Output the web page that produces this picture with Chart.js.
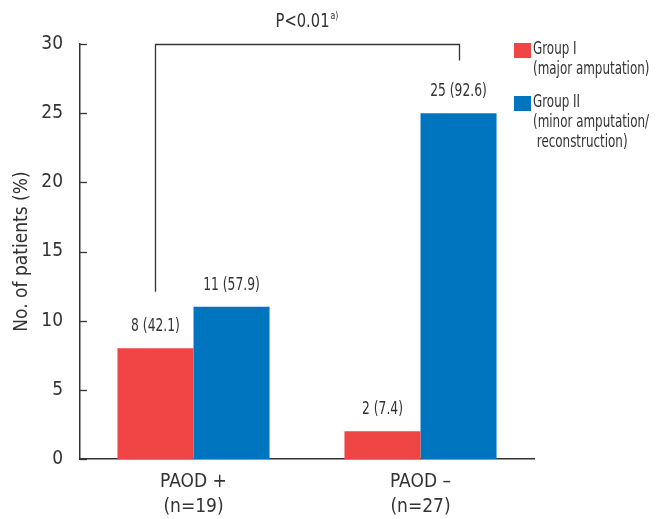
<!DOCTYPE html>
<html>
<head>
<meta charset="utf-8">
<script src="https://cdn.jsdelivr.net/npm/chart.js@4/dist/chart.umd.min.js"></script>
<style>
  html, body { margin: 0; padding: 0; background: #fff; }
  #wrap { width: 665px; height: 519px; position: relative; }
</style>
</head>
<body>
<div id="wrap"><canvas id="chart"></canvas></div>
<script>
// Datos del gráfico
const categories = [['PAOD +', '(n=19)'], ['PAOD \u2013', '(n=27)']];
const groupNames = ['Group I', 'Group II'];
const groupNotes = [['(major amputation)'], ['(minor amputation/', ' reconstruction)']];
const group1 = [8, 2];
const group2 = [11, 25];
const group1Pct = [42.1, 7.4];
const group2Pct = [57.9, 92.6];
const yTicks = [0, 5, 10, 15, 20, 25, 30];
const pText = 'P<0.01';
const pSup = 'a)';

const FONT = "'DejaVu Sans Condensed', 'Liberation Sans Narrow', sans-serif";
const INK = '#333333';
const colors = ['#ef4545', '#0075bf'];

// texto comprimido horizontalmente (la fuente original es condensada)
function condensedText(ctx, text, x, y, size, sx, align) {
    ctx.save();
    ctx.font = size + 'px ' + FONT;
    ctx.textAlign = align || 'center';
    ctx.textBaseline = 'middle';
    ctx.translate(x, y);
    ctx.scale(sx, 1);
    ctx.fillText(text, 0, 0);
    ctx.restore();
}

// Plugin para dibujar marcas, etiquetas, corchete y leyenda
const extras = {
    id: 'extras',
    afterDraw(chart) {
        const ctx = chart.ctx;
        const y = chart.scales.y;
        const area = chart.chartArea;
        ctx.save();

        // marcas del eje y hacia dentro
        ctx.strokeStyle = INK;
        ctx.lineWidth = 1.3;
        yTicks.forEach(v => {
            const py = Math.round(y.getPixelForValue(v)) + 0.5;
            ctx.beginPath();
            ctx.moveTo(area.left, py);
            ctx.lineTo(area.left + 7, py);
            ctx.stroke();
        });

        // etiquetas encima de las barras
        ctx.fillStyle = INK;
        const pcts = [group1Pct, group2Pct];
        chart.data.datasets.forEach((ds, di) => {
            chart.getDatasetMeta(di).data.forEach((bar, i) => {
                condensedText(ctx, ds.data[i] + ' (' + pcts[di][i] + ')', bar.x, bar.y - 22, 18, 0.76);
            });
        });

        // corchete de significancia
        const left = chart.getDatasetMeta(0).data[0];
        const leftTop = chart.getDatasetMeta(1).data[0];
        const right = chart.getDatasetMeta(1).data[1];
        const top = Math.round(y.getPixelForValue(30)) + 0.5;
        ctx.lineWidth = 1.3;
        ctx.beginPath();
        ctx.moveTo(Math.round(left.x) + 0.5, leftTop.y - 15);
        ctx.lineTo(Math.round(left.x) + 0.5, top);
        ctx.lineTo(Math.round(right.x) + 0.5, top);
        ctx.lineTo(Math.round(right.x) + 0.5, top + 16);
        ctx.stroke();

        // texto P
        const s1 = 0.86, s2 = 0.8;
        ctx.font = '19px ' + FONT;
        const w1 = ctx.measureText(pText).width * s1;
        ctx.font = '11px ' + FONT;
        const w2 = ctx.measureText(pSup).width * s2;
        const cx = (left.x + right.x) / 2;
        const sx = cx - (w1 + w2 + 1) / 2;
        condensedText(ctx, pText, sx, 22, 19, s1, 'left');
        condensedText(ctx, pSup, sx + w1 + 1, 16, 11, s2, 'left');

        // leyenda
        const legendY = [50, 103];
        groupNames.forEach((name, i) => {
            ctx.fillStyle = colors[i];
            ctx.fillRect(514, legendY[i] - 7, 17, 15);
            ctx.fillStyle = INK;
            condensedText(ctx, name, 533, legendY[i], 17, 0.78, 'left');
            groupNotes[i].forEach((line, j) => {
                condensedText(ctx, line, 533, legendY[i] + 20 * (j + 1), 17, 0.78, 'left');
            });
        });

        ctx.restore();
    }
};

new Chart(document.getElementById('chart'), {
    type: 'bar',
    data: {
        labels: categories,
        datasets: [
            { label: groupNames[0], data: group1, backgroundColor: colors[0] },
            { label: groupNames[1], data: group2, backgroundColor: colors[1] }
        ]
    },
    options: {
        responsive: true,
        maintainAspectRatio: false,
        animation: false,
        events: [],
        layout: { padding: { top: 44, right: 131, left: 0, bottom: 0 } },
        categoryPercentage: 0.67,
        barPercentage: 1,
        plugins: {
            legend: { display: false },
            tooltip: { enabled: false }
        },
        scales: {
            x: {
                grid: { display: false, drawTicks: false },
                border: { display: true, color: INK, width: 1.5 },
                ticks: {
                    color: INK,
                    font: { family: FONT, size: 19, lineHeight: 1.3 },
                    padding: 11,
                    maxRotation: 0
                },
                afterFit(s) { s.height = 60; }
            },
            y: {
                min: 0,
                max: 30,
                afterBuildTicks(s) { s.ticks = yTicks.map(v => ({ value: v })); },
                grid: { display: false, drawTicks: false },
                border: { display: true, color: INK, width: 1.5 },
                ticks: {
                    color: INK,
                    font: { family: FONT, size: 19 },
                    padding: 17
                },
                title: {
                    display: true,
                    text: 'No. of patients (%)',
                    color: INK,
                    font: { family: FONT, size: 19 },
                    padding: { top: 11, bottom: 0 }
                },
                afterFit(s) { s.width = 80; }
            }
        }
    },
    plugins: [extras]
});
</script>
</body>
</html>
